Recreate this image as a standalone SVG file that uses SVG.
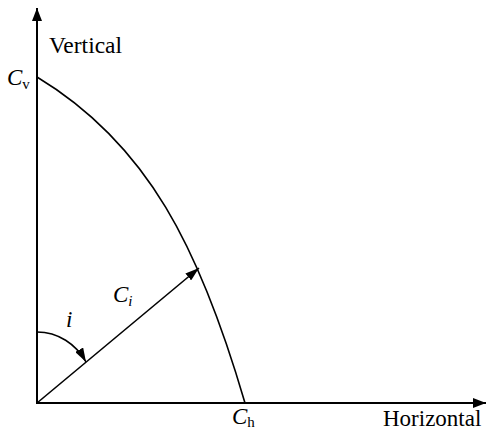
<svg xmlns="http://www.w3.org/2000/svg" width="486" height="432" viewBox="0 0 486 432">
<style>
.ln{fill:none;stroke:#000;stroke-linecap:butt}
.t{font-family:"Liberation Serif","Times New Roman",serif;fill:#000}
.it{font-style:italic}
</style>
<defs>
<marker id="ax" markerUnits="userSpaceOnUse" markerWidth="13" markerHeight="10" refX="13" refY="5" orient="auto"><path d="M0,0 L13,5 L0,10 z" fill="#000"/></marker>
<marker id="ar" markerUnits="userSpaceOnUse" markerWidth="14" markerHeight="9" refX="14" refY="4.5" orient="auto"><path d="M0,0 L14,4.5 L0,9 z" fill="#000"/></marker>
</defs>
<rect width="486" height="432" fill="#fff"/>
<g id="connectors">
<path id="v-axis" class="ln" stroke-width="2" d="M37,403 L37,8" marker-end="url(#ax)"/>
<path id="h-axis" class="ln" stroke-width="2" d="M36,403 L486,403" marker-end="url(#ax)"/>
<path id="curve" class="ln" stroke-width="1.6" d="M37,77 C148,144 200,249 245,403"/>
<path id="ci" class="ln" stroke-width="1.6" d="M37,403 L199,268" marker-end="url(#ar)"/>
<path id="arc-i" class="ln" stroke-width="1.5" d="M37,332 C58,332 76,344 86,362" marker-end="url(#ar)"/>
</g>
<g id="label-vertical"><text class="t" x="49" y="53" font-size="23.5">Vertical</text></g>
<g id="label-horizontal"><text class="t" x="383" y="426" font-size="23">Horizontal</text></g>
<g id="label-cv"><text class="t" x="7" y="85" font-size="23"><tspan class="it">C</tspan><tspan font-size="15" dy="4">v</tspan></text></g>
<g id="label-ch"><text class="t" x="232" y="424" font-size="23"><tspan class="it">C</tspan><tspan font-size="15" dy="3">h</tspan></text></g>
<g id="label-ci"><text class="t it" x="113" y="302" font-size="23">C<tspan font-size="15" dy="4">i</tspan></text></g>
<g id="label-i"><text class="t it" x="66" y="327" font-size="23">i</text></g>
</svg>
